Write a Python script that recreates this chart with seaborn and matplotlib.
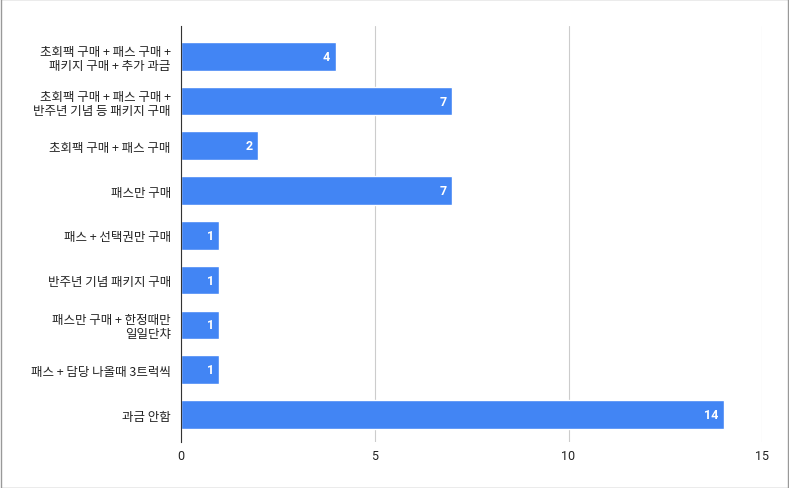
import matplotlib
matplotlib.use("Agg")
import matplotlib.pyplot as plt
import seaborn as sns
import pandas as pd

categories = [
    "초회팩 구매 + 패스 구매 +\n패키지 구매 + 추가 과금",
    "초회팩 구매 + 패스 구매 +\n반주년 기념 등 패키지 구매",
    "초회팩 구매 + 패스 구매",
    "패스만 구매",
    "패스 + 선택권만 구매",
    "반주년 기념 패키지 구매",
    "패스만 구매 + 한정때만\n일일단챠",
    "패스 + 담당 나올때 3트럭씩",
    "과금 안함",
]
values = [4, 7, 2, 7, 1, 1, 1, 1, 14]
xticks = [0, 5, 10, 15]

sns.set_theme(style="white")
plt.rcParams['font.family'] = ['Noto Sans CJK KR', 'DejaVu Sans']

df = pd.DataFrame({"cat": categories, "val": values})

fig = plt.figure(figsize=(7.89, 4.89), dpi=100)
ax = fig.add_axes([0.2288, 0.094, 0.7376, 0.851])
sns.barplot(data=df, y="cat", x="val", color="#4285f4", saturation=1, width=0.64, ax=ax, orient="h")

ax.set_xlim(0, 15)
ax.set_ylim(8.614, -0.677)
ax.set_xticks(xticks)
ax.set_xticklabels([str(t) for t in xticks], fontsize=9, color="#222222",
                   family=["Roboto", "DejaVu Sans"])
ax.set_xlabel("")
ax.set_ylabel("")
ax.tick_params(axis="y", length=0, labelsize=9, labelcolor="#222222", pad=7)
ax.tick_params(axis="x", length=0, pad=5)
for lbl in ax.get_yticklabels():
    lbl.set_linespacing(1.1)
ax.grid(axis="x", color="#cccccc", linewidth=0.8)
ax.set_axisbelow(True)
for s in ["top", "right", "bottom"]:
    ax.spines[s].set_visible(False)
ax.spines["left"].set_color("#333333")
ax.spines["left"].set_linewidth(0.8)

for p, v in zip(ax.patches, values):
    y = p.get_y() + p.get_height() / 2
    ax.text(p.get_width() - 0.14, y, str(v), ha="right", va="center",
            color="white", fontsize=9, fontweight="bold", family=["Roboto", "DejaVu Sans"])

fig.patches.append(plt.Rectangle((0.001, 0.001), 0.998, 0.998, transform=fig.transFigure,
                                 fill=False, edgecolor="#999999", linewidth=1))

fig.savefig("out.png", dpi=100)
